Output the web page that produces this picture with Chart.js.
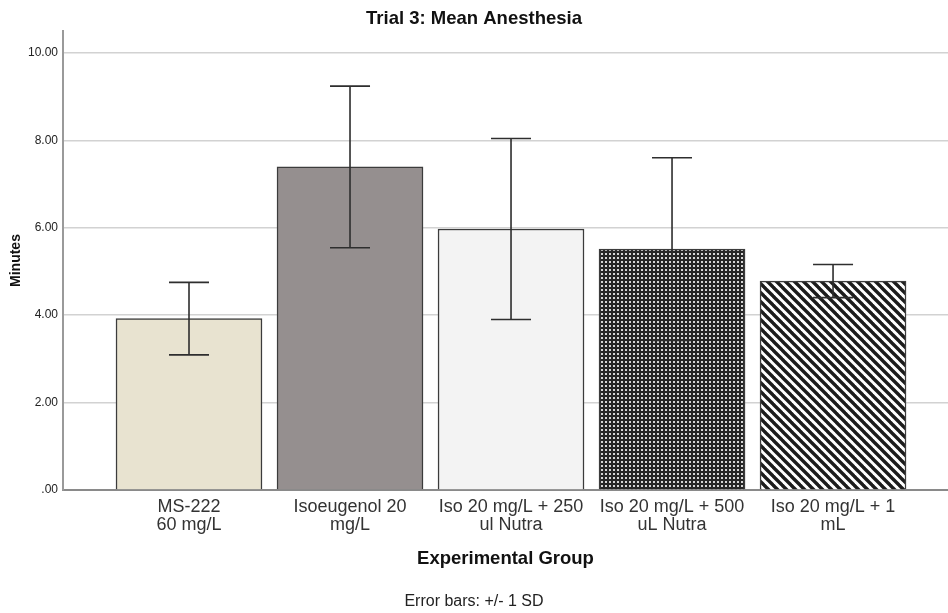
<!DOCTYPE html>
<html>
<head>
<meta charset="utf-8">
<script src="https://cdn.jsdelivr.net/npm/chart.js@4/dist/chart.umd.min.js"></script>
<style>
  html, body { margin: 0; padding: 0; background: #fff; }
  #wrap { width: 948px; height: 613px; }
</style>
</head>
<body>
<div id="wrap"><canvas id="c" width="948" height="613"></canvas></div>
<script>
// Experimental groups (two-line axis labels)
const categories = [
  ["MS-222", "60 mg/L"],
  ["Isoeugenol 20", "mg/L"],
  ["Iso 20 mg/L + 250", "ul Nutra"],
  ["Iso 20 mg/L + 500", "uL Nutra"],
  ["Iso 20 mg/L + 1", "mL"]
];
// Mean time to anesthesia (minutes) and standard deviation
const means = [3.92, 7.39, 5.97, 5.51, 4.78];
const sds = [0.83, 1.85, 2.07, 2.09, 0.38];
const yTicks = [0, 2, 4, 6, 8, 10];

const FONT = "'Liberation Sans', Arial, sans-serif";

// Fill patterns for the last two groups
function checkPattern() {
  const t = document.createElement('canvas');
  t.width = 4; t.height = 4;
  const g = t.getContext('2d');
  g.fillStyle = '#262626';
  g.fillRect(0, 0, 4, 4);
  g.fillStyle = '#d6d6d6';
  g.fillRect(1, 1, 2, 2);
  return g.createPattern(t, 'repeat');
}
function stripePattern() {
  const s = 9;
  const t = document.createElement('canvas');
  t.width = s; t.height = s;
  const g = t.getContext('2d');
  g.fillStyle = '#ffffff';
  g.fillRect(0, 0, s, s);
  g.strokeStyle = '#1c1c1c';
  g.lineWidth = 3.4;
  for (const o of [-s, 0, s]) {
    g.beginPath();
    g.moveTo(o - 1, -1);
    g.lineTo(o + s + 1, s + 1);
    g.stroke();
  }
  return g.createPattern(t, 'repeat');
}

const fills = ['#e8e3d0', '#958f8f', '#f3f3f3', checkPattern(), stripePattern()];

// Error bars (+/- 1 SD) drawn through the chart's own scales
const errorBars = {
  id: 'errorBars',
  afterDatasetsDraw(chart) {
    const { ctx, scales: { x, y } } = chart;
    ctx.save();
    ctx.strokeStyle = '#2e2e2e';
    ctx.lineWidth = 1.6;
    means.forEach((m, i) => {
      const px = x.getPixelForValue(i);
      const top = y.getPixelForValue(m + sds[i]);
      const bot = y.getPixelForValue(m - sds[i]);
      const cap = 20;
      ctx.beginPath();
      ctx.moveTo(px, top); ctx.lineTo(px, bot);
      ctx.moveTo(px - cap, top); ctx.lineTo(px + cap, top);
      ctx.moveTo(px - cap, bot); ctx.lineTo(px + cap, bot);
      ctx.stroke();
    });
    ctx.restore();
  }
};

new Chart(document.getElementById('c'), {
  type: 'bar',
  data: {
    datasets: [{
      data: means.map((m, i) => ({ x: i, y: m })),
      backgroundColor: fills,
      borderColor: '#3c3c3c',
      borderWidth: 1.5,
      barThickness: 146
    }]
  },
  plugins: [errorBars],
  options: {
    responsive: false,
    animation: false,
    layout: { padding: 0 },
    plugins: {
      legend: { display: false },
      tooltip: { enabled: false },
      title: {
        display: true,
        text: 'Trial 3: Mean Anesthesia',
        color: '#111',
        font: { family: FONT, size: 18.5, weight: 'bold' },
        padding: { top: 7.9, bottom: 0.9 }
      },
      subtitle: {
        display: true,
        position: 'bottom',
        text: 'Error bars: +/- 1 SD',
        color: '#222',
        font: { family: FONT, size: 16 },
        padding: { top: 0, bottom: 1.4 }
      }
    },
    scales: {
      x: {
        type: 'linear',
        offset: false,
        min: -0.7826,
        max: 4.714,
        afterBuildTicks(scale) { scale.ticks = categories.map((_, i) => ({ value: i })); },
        afterFit(scale) { scale.height = 102.4; },
        grid: { display: false, drawTicks: false, offset: false },
        border: { display: true, color: '#8a8a8a', width: 2 },
        ticks: {
          autoSkip: false,
          maxRotation: 0,
          padding: 8,
          color: '#333',
          font: { family: FONT, size: 18, lineHeight: '18px' },
          callback: (v) => categories[v]
        },
        title: {
          display: true,
          text: 'Experimental Group',
          color: '#111',
          font: { family: FONT, size: 18.5, weight: 'bold' },
          padding: { top: 0, bottom: 22.3 }
        }
      },
      y: {
        min: 0,
        max: 10.5,
        afterBuildTicks(scale) { scale.ticks = yTicks.map(v => ({ value: v })); },
        afterFit(scale) { scale.width = 63; },
        grid: { color: '#d2d2d2', lineWidth: 1.5, drawTicks: false },
        border: { display: true, color: '#9a9a9a', width: 2 },
        ticks: {
          padding: 5,
          color: '#222',
          font: { family: FONT, size: 12 },
          callback: (v) => v === 0 ? '.00' : v.toFixed(2)
        },
        title: {
          display: true,
          text: 'Minutes',
          color: '#111',
          font: { family: FONT, size: 14, weight: 'bold' },
          padding: { top: 7.6, bottom: 0 }
        }
      }
    }
  }
});
</script>
</body>
</html>
